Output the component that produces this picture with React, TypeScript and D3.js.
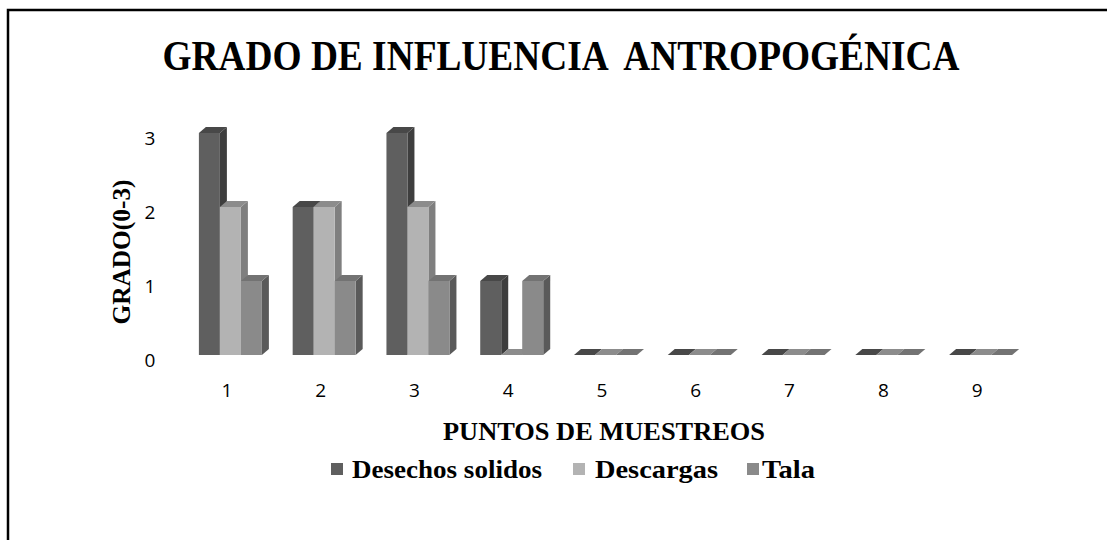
import React from "react";
import * as d3 from "d3";

const categories = ["1", "2", "3", "4", "5", "6", "7", "8", "9"];
const seriesNames = ["Desechos solidos", "Descargas", "Tala"];
const desechos = [3, 2, 3, 1, 0, 0, 0, 0, 0];
const descargas = [2, 2, 2, 0, 0, 0, 0, 0, 0];
const tala = [1, 1, 1, 1, 0, 0, 0, 0, 0];
const yTicks = [0, 1, 2, 3];

const seriesValues = [desechos, descargas, tala];
const colors = [
  { front: "#5f5f5f", side: "#3e3e3e", top: "#484848" },
  { front: "#b3b3b3", side: "#7f7f7f", top: "#8c8c8c" },
  { front: "#8a8a8a", side: "#5a5a5a", top: "#737373" },
];

export default function App() {
  const W = 1107;
  const H = 540;
  const x = d3.scaleBand<string>().domain(categories).range([180, 1024]).paddingInner(0).paddingOuter(0);
  const y = d3.scaleLinear().domain([0, 3]).range([355, 133]);
  const barW = 21;
  const dx = 7;
  const dy = 6;
  const serif = "'Liberation Serif', 'Times New Roman', serif";
  const sans = "'Open Sans', 'Noto Sans', sans-serif";

  const bars: React.ReactNode[] = [];
  categories.forEach((c, i) => {
    const cx = (x(c) as number) + x.bandwidth() / 2;
    const gx = cx - 28;
    seriesValues.forEach((vals, s) => {
      const v = vals[i];
      const x0 = gx + s * barW;
      const yt = y(v);
      const yb = y(0);
      const col = colors[s];
      const side = `${x0 + barW},${yt} ${x0 + barW + dx},${yt - dy} ${x0 + barW + dx},${yb - dy} ${x0 + barW},${yb}`;
      const top = `${x0},${yt} ${x0 + dx},${yt - dy} ${x0 + barW + dx},${yt - dy} ${x0 + barW},${yt}`;
      bars.push(
        <g key={`${c}-${s}`}>
          <polygon points={side} fill={col.side} />
          <polygon points={top} fill={col.top} />
          {v > 0 && <rect x={x0} y={yt} width={barW} height={yb - yt} fill={col.front} />}
        </g>
      );
    });
  });

  const legendItems = [
    { mx: 331, tx: 352, tl: 190 },
    { mx: 573, tx: 595, tl: 123 },
    { mx: 747, tx: 762, tl: 53 },
  ];

  return (
    <svg width={W} height={H} style={{ position: "absolute", left: 0, top: 0, background: "#fff" }}>
      <rect x={0} y={0} width={W} height={H} fill="#fff" />
      <rect x={8} y={10} width={W + 20} height={H + 20} fill="none" stroke="#000" strokeWidth={2.5} />
      <text
        x={561}
        y={70}
        textAnchor="middle"
        fontFamily={serif}
        fontWeight="bold"
        fontSize={42}
        textLength={797}
        lengthAdjust="spacingAndGlyphs"
        fill="#000"
        style={{ whiteSpace: "pre" }}
      >
        GRADO DE INFLUENCIA  ANTROPOGÉNICA
      </text>
      {yTicks.map((t) => (
        <text key={t} x={150} y={y(t) + 12} textAnchor="middle" fontFamily={sans} fontSize={19} fill="#000">
          {t}
        </text>
      ))}
      <text
        transform={`translate(130,252) rotate(-90)`}
        textAnchor="middle"
        fontFamily={serif}
        fontWeight="bold"
        fontSize={26}
        textLength={145}
        lengthAdjust="spacingAndGlyphs"
        fill="#000"
      >
        GRADO(0-3)
      </text>
      {bars}
      {categories.map((c) => (
        <text
          key={c}
          x={(x(c) as number) + x.bandwidth() / 2}
          y={397}
          textAnchor="middle"
          fontFamily={sans}
          fontSize={19}
          fill="#000"
        >
          {c}
        </text>
      ))}
      <text
        x={604}
        y={440}
        textAnchor="middle"
        fontFamily={serif}
        fontWeight="bold"
        fontSize={26}
        textLength={322}
        lengthAdjust="spacingAndGlyphs"
        fill="#000"
      >
        PUNTOS DE MUESTREOS
      </text>
      {seriesNames.map((n, s) => (
        <g key={n}>
          <rect x={legendItems[s].mx} y={463} width={12} height={12} fill={colors[s].front} />
          <text
            x={legendItems[s].tx}
            y={478}
            fontFamily={serif}
            fontWeight="bold"
            fontSize={25}
            textLength={legendItems[s].tl}
            lengthAdjust="spacingAndGlyphs"
            fill="#000"
          >
            {n}
          </text>
        </g>
      ))}
    </svg>
  );
}
